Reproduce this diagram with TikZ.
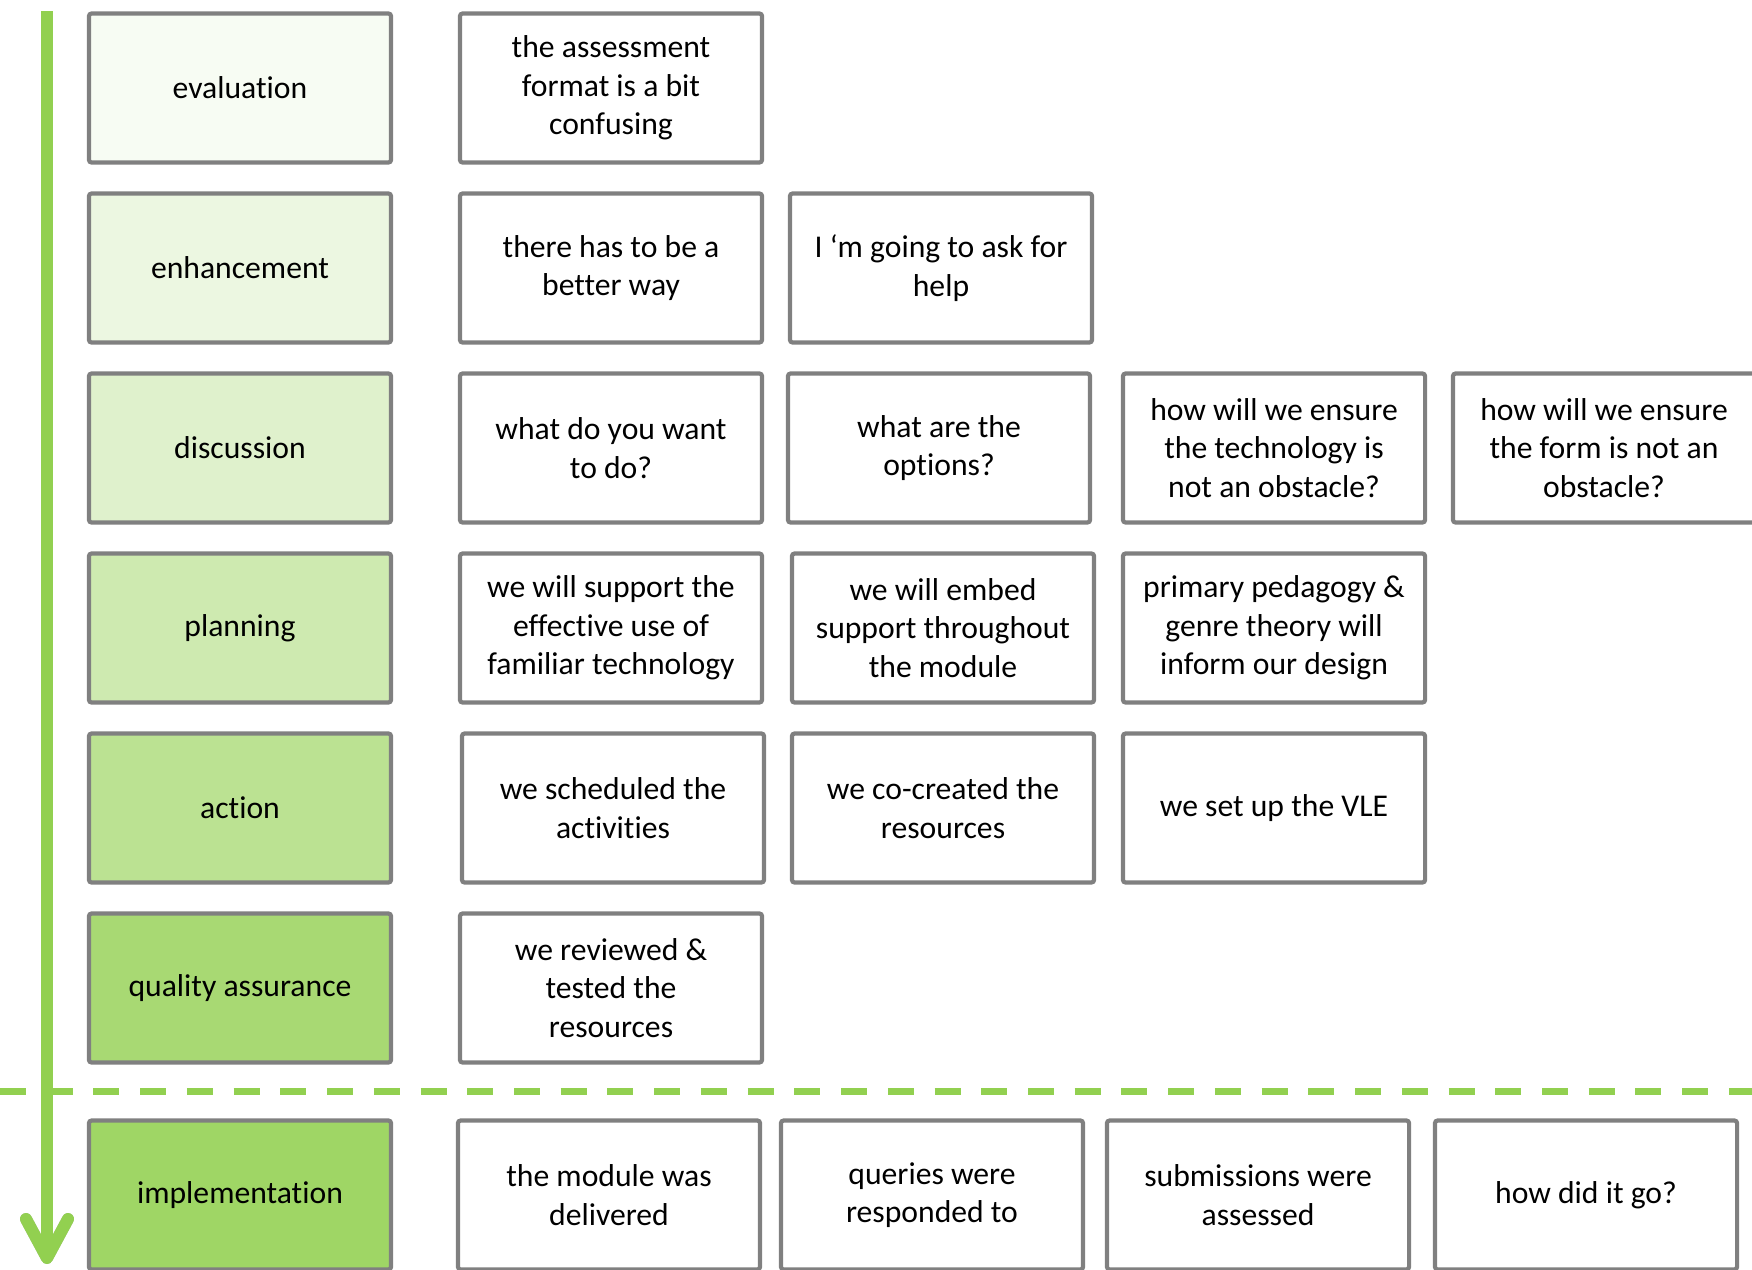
\documentclass[tikz,border=0pt]{standalone}
\usepackage{fontspec}
\setmainfont[Ligatures=NoCommon]{Carlito}
\usepackage{xcolor}
\usepackage{tikz}

\definecolor{leafgreen}{HTML}{92D050}
\definecolor{framegray}{HTML}{808080}
\colorlet{evalfill}{leafgreen!7}
\colorlet{enhfill}{leafgreen!17}
\colorlet{discfill}{leafgreen!29}
\colorlet{planfill}{leafgreen!45}
\colorlet{actfill}{leafgreen!62}
\colorlet{qafill}{leafgreen!80}
\colorlet{implfill}{leafgreen!88}

\begin{document}
\begin{tikzpicture}[x=0.01cm, y=-0.01cm,
  every node/.style={rectangle, draw=framegray, line width=1.2pt, rounded corners=0.8pt,
    minimum width=3.02cm, minimum height=1.49cm, inner sep=2pt, align=center,
    font=\fontsize{9}{10.95}\selectfont},
  card/.style={fill=white},
  stage/.style={line width=0.12cm, leafgreen}]
\useasboundingbox (0,0) rectangle (1752,1269);
\clip (0,0) rectangle (1752,1269);

% Separator
\coordinate (sepl) at (0,1091);
\coordinate (sepr) at (1752,1091);
\draw[leafgreen, line width=0.07cm, dash pattern=on 0.26cm off 0.207cm] (sepl) -- (sepr);

% Time arrow
\coordinate (start) at (47,11);
\coordinate (tip) at (47,1258);
\coordinate (wingl) at (26,1219);
\coordinate (wingr) at (68,1219);
\begin{scope}[shift={(-6,3)}]
\draw[stage, black, opacity=0.12] (start) -- (tip);
\draw[stage, black, opacity=0.12, line cap=round, line join=round] (wingl) -- (tip) -- (wingr);
\end{scope}
\begin{scope}[shift={(-3,1)}]
\draw[stage, black, opacity=0.12] (start) -- (tip);
\draw[stage, black, opacity=0.12, line cap=round, line join=round] (wingl) -- (tip) -- (wingr);
\end{scope}
\draw[stage] (start) -- (tip);
\draw[stage, line cap=round, line join=round] (wingl) -- (tip) -- (wingr);

% Stages
\node[fill=evalfill] (eval) at (240,88) {evaluation};
\node[fill=enhfill] (enh) at (240,268) {enhancement};
\node[fill=discfill] (disc) at (240,448) {discussion};
\node[fill=planfill] (plan) at (240,628) {planning};
\node[fill=actfill] (act) at (240,808) {action};
\node[fill=qafill] (qa) at (240,988) {quality assurance};
\node[fill=implfill] (impl) at (240,1195) {implementation};

% Cards
\node[card] (eval1) at (611,88) {the assessment\\format is a bit\\confusing};
\node[card] (enh1) at (611,268) {there has to be a\\better way};
\node[card] (enh2) at (941,268) {I ‘m going to ask for\\help};
\node[card] (disc1) at (611,448) {what do you want\\to do?};
\node[card] (disc2) at (939,448) {what are the\\options?};
\node[card] (disc3) at (1274,448) {how will we ensure\\the technology is\\not an obstacle?};
\node[card] (disc4) at (1604,448) {how will we ensure\\the form is not an\\obstacle?};
\node[card] (plan1) at (611,628) {we will support the\\effective use of\\familiar technology};
\node[card] (plan2) at (943,628) {we will embed\\support throughout\\the module};
\node[card] (plan3) at (1274,628) {primary pedagogy \&\\genre theory will\\inform our design};
\node[card] (act1) at (613,808) {we scheduled the\\activities};
\node[card] (act2) at (943,808) {we co-created the\\resources};
\node[card] (act3) at (1274,808) {we set up the VLE};
\node[card] (qa1) at (611,988) {we reviewed \&\\tested the\\resources};
\node[card] (impl1) at (609,1195) {the module was\\delivered};
\node[card] (impl2) at (932,1195) {queries were\\responded to};
\node[card] (impl3) at (1258,1195) {submissions were\\assessed};
\node[card] (impl4) at (1586,1195) {how did it go?};
\end{tikzpicture}
\end{document}
